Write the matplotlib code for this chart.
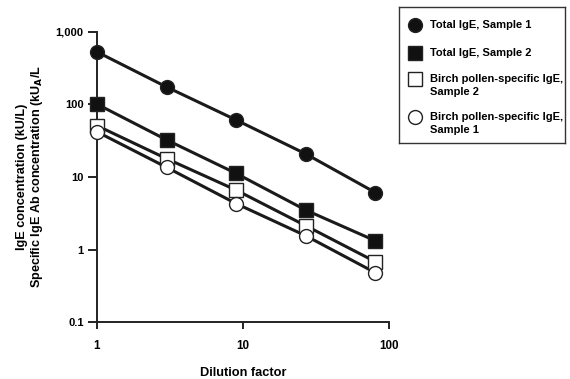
import matplotlib
matplotlib.use('Agg')
import matplotlib.pyplot as plt
from matplotlib.ticker import FixedLocator, NullLocator

plt.rcParams['font.family'] = ['Liberation Sans', 'DejaVu Sans']
plt.rcParams['font.weight'] = 'bold'

# 희석배수
dilution = [1, 3, 9, 27, 81]

total_s1 = [530, 174, 61, 20.8, 6.1]
total_s2 = [101, 32.5, 11.2, 3.5, 1.32]
birch_s2 = [51, 17.9, 6.6, 2.13, 0.68]
birch_s1 = [42, 13.6, 4.3, 1.55, 0.48]

labels = ['Total IgE, Sample 1', 'Total IgE, Sample 2',
          'Birch pollen-specific IgE,\nSample 2', 'Birch pollen-specific IgE,\nSample 1']

yticks = [0.1, 1, 10, 100, 1000]
ytick_labels = ['0.1', '1', '10', '100', '1,000']
xticks = [1, 10, 100]
xtick_labels = ['1', '10', '100']

fig = plt.figure(figsize=(5.7, 3.79), dpi=100)
ax = fig.add_axes([0.170, 0.150, 0.512, 0.766])

series = [
    (total_s1, 'o', '#111111'),
    (total_s2, 's', '#111111'),
    (birch_s2, 's', 'white'),
    (birch_s1, 'o', 'white'),
]
MS = 10
for vals, mk, fc in series:
    ax.plot(dilution, vals, color='#1a1a1a', linewidth=2.2, zorder=2, clip_on=False)
    ax.plot(dilution, vals, linestyle='none', marker=mk, markersize=MS, clip_on=False,
            markerfacecolor=fc, markeredgecolor='#222222', markeredgewidth=1.0, zorder=3)

ax.set_xscale('log')
ax.set_yscale('log')
ax.set_xlim(1, 100)
ax.set_ylim(0.1, 1000)
ax.yaxis.set_major_locator(FixedLocator(yticks))
ax.set_yticklabels(ytick_labels)
ax.xaxis.set_major_locator(FixedLocator(xticks))
ax.set_xticklabels(xtick_labels)
ax.xaxis.set_minor_locator(NullLocator())
ax.yaxis.set_minor_locator(NullLocator())

for s in ['top', 'right']:
    ax.spines[s].set_visible(False)
for s in ['left', 'bottom']:
    ax.spines[s].set_linewidth(1.4)
    ax.spines[s].set_color('#222222')
ax.tick_params(axis='both', which='major', width=1.4, color='#222222',
               labelsize=8, direction='out')
ax.tick_params(axis='x', length=5, pad=8, labelsize=8.4)
ax.tick_params(axis='y', length=6.5, pad=3)

ax.set_xlabel('Dilution factor', fontsize=9.2, fontweight='bold', labelpad=11)
ax.set_ylabel('IgE concentration (kU/L)\nSpecific IgE Ab concentration (kU$_\\mathbf{A}$/L',
              fontsize=9.1, fontweight='bold', labelpad=8, linespacing=1.05)

# 범례 (마커를 첫 줄에 맞춤)
lax = fig.add_axes([0.700, 0.623, 0.291, 0.3585])
lax.set_xlim(0, 166)
lax.set_ylim(136, 0)
lax.set_xticks([])
lax.set_yticks([])
for s in lax.spines.values():
    s.set_linewidth(1.0)
    s.set_color('#333333')
row_y = [18, 46, 72, 110]
for (vals, mk, fc), lab, y in zip(series, labels, row_y):
    lax.plot([16], [y], linestyle='none', marker=mk, markersize=MS,
             markerfacecolor=fc, markeredgecolor='#222222', markeredgewidth=1.0)
    lax.text(31, y - 5, lab, fontsize=8, fontweight='bold', ha='left', va='top',
             linespacing=1.35)

fig.savefig('out.png', dpi=100)
